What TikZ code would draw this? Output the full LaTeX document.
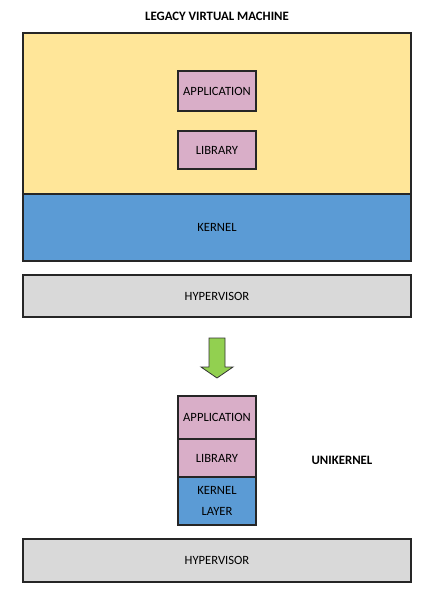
\documentclass[tikz,border=0pt]{standalone}
\usepackage{fontspec}
\setmainfont{Carlito}
\definecolor{vmyellow}{HTML}{FFE699}
\definecolor{kblue}{HTML}{5B9BD5}
\definecolor{lpink}{HTML}{D9AEC8}
\definecolor{hgray}{HTML}{D9D9D9}
\definecolor{agreen}{HTML}{92D050}
\begin{document}
\begin{tikzpicture}[x=1pt,y=-1pt,
  layer/.style={draw=black!85, line width=1.4pt, inner sep=0pt, minimum width=388pt, font=\fontsize{12.6}{14}\selectfont},
  small/.style={draw=black!85, line width=1.4pt, inner sep=0pt, minimum width=78pt, fill=lpink, font=\fontsize{12.6}{14}\selectfont, align=center},
  heading/.style={font=\bfseries\fontsize{12.8}{14}\selectfont}]
\useasboundingbox (0,0) rectangle (426,590);
\fill[white] (0,0) rectangle (426,590);
\node[heading] (title) at (217,16) {LEGACY VIRTUAL MACHINE};
\node[layer, fill=vmyellow, minimum height=161pt] (vm) at (217,113.5) {};
\node[layer, fill=kblue, minimum height=67pt] (kernel) at (217,227.5) {KERNEL};
\node[layer, fill=hgray, minimum height=42pt] (hyp1) at (217,296) {HYPERVISOR};
\node[small, minimum height=40pt] (app1) at (217,91) {APPLICATION};
\node[small, minimum height=38pt] (lib1) at (217,150) {LIBRARY};
\draw[draw=black!80, line width=0.8pt, fill=agreen, line join=miter]
  (209,338) -- (225,338) -- (225,367) -- (233,367) -- (217,378) -- (201,367) -- (209,367) -- cycle;
\node[small, minimum height=43pt] (app2) at (217,417.5) {APPLICATION};
\node[small, minimum height=38pt] (lib2) at (217,458) {LIBRARY};
\node[small, fill=kblue, minimum height=48pt, font=\fontsize{12.6}{21}\selectfont] (kl) at (217,501) {KERNEL\\LAYER};
\node[heading] (uni) at (342,460) {UNIKERNEL};
\node[layer, fill=hgray, minimum height=43pt] (hyp2) at (217,560.5) {HYPERVISOR};
\end{tikzpicture}
\end{document}
